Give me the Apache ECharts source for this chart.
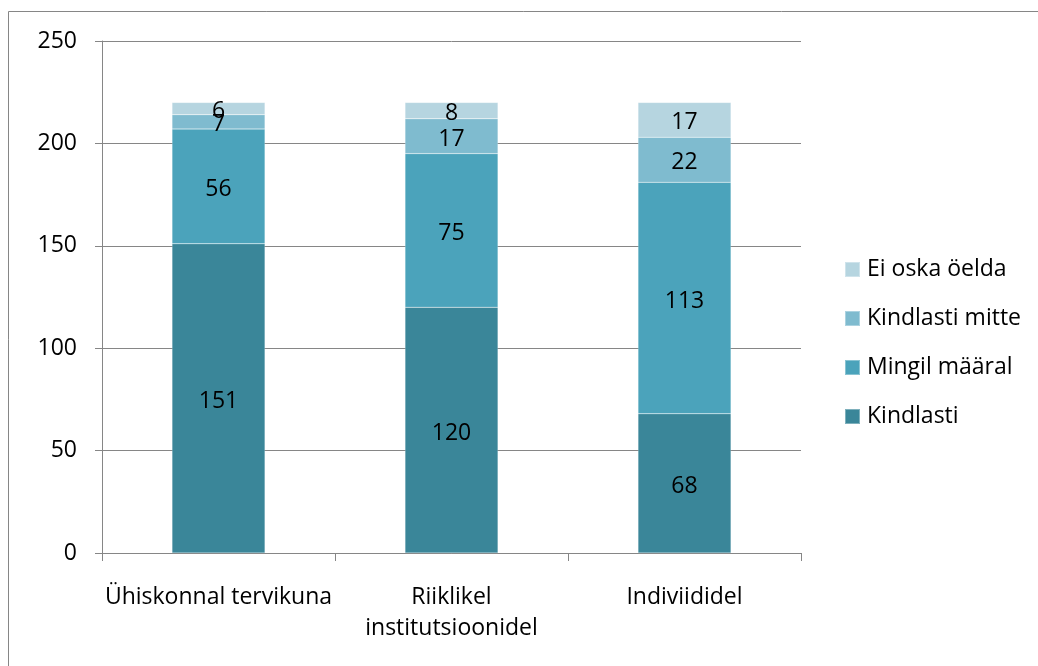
<!DOCTYPE html>
<html>
<head>
<meta charset="utf-8">
<script src="https://cdn.jsdelivr.net/npm/echarts@6/dist/echarts.min.js"></script>
<style>
  html, body { margin: 0; padding: 0; background: #ffffff; }
  #chart { width: 1038px; height: 666px; }
</style>
</head>
<body>
<div id="chart"></div>
<script>
// Categories and stacked series values
const categories = ['Ühiskonnal tervikuna', 'Riiklikel\ninstitutsioonidel', 'Indiviididel'];
const kindlasti = [151, 120, 68];
const mingilMaaral = [56, 75, 113];
const kindlastiMitte = [7, 17, 22];
const eiOskaOelda = [6, 8, 17];
const yTicks = { min: 0, max: 250, interval: 50 };

const FONT = 'Open Sans';
const FONT_SIZE = 23;
const AXIS_GREY = '#868686';

const seriesDefs = [
  { name: 'Kindlasti', data: kindlasti, color: '#3a8699' },
  { name: 'Mingil määral', data: mingilMaaral, color: '#4ba3bb' },
  { name: 'Kindlasti mitte', data: kindlastiMitte, color: '#7fbbcf' },
  { name: 'Ei oska öelda', data: eiOskaOelda, color: '#b6d5e0' }
];

const chart = echarts.init(document.getElementById('chart'), null, { renderer: 'canvas' });

chart.setOption({
  animation: false,
  backgroundColor: '#ffffff',
  textStyle: { fontFamily: FONT },
  graphic: [{
    type: 'rect',
    shape: { x: 8.5, y: 11.5, width: 1200, height: 800 },
    style: { fill: 'none', stroke: AXIS_GREY, lineWidth: 1 },
    silent: true
  }],
  grid: { left: 102, right: 237, top: 41, bottom: 113, containLabel: false },
  legend: {
    orient: 'vertical',
    left: 844,
    top: 258,
    padding: 0,
    itemWidth: 15,
    itemHeight: 15,
    itemGap: 26,
    icon: 'rect',
    data: ['Ei oska öelda', 'Kindlasti mitte', 'Mingil määral', 'Kindlasti'],
    textStyle: { fontFamily: FONT, fontSize: FONT_SIZE, lineHeight: 22, color: '#000000', padding: [0, 0, 0, 2] }
  },
  xAxis: {
    type: 'category',
    data: categories,
    axisLine: { lineStyle: { color: AXIS_GREY, width: 1 } },
    axisTick: { show: true, length: 8, lineStyle: { color: AXIS_GREY } },
    axisLabel: { color: '#000000', fontFamily: FONT, fontSize: FONT_SIZE, margin: 29, lineHeight: 31, interval: 0 }
  },
  yAxis: {
    type: 'value',
    min: yTicks.min,
    max: yTicks.max,
    interval: yTicks.interval,
    axisLine: { show: true, lineStyle: { color: AXIS_GREY, width: 1 } },
    axisTick: { show: true, length: 7, lineStyle: { color: AXIS_GREY } },
    splitLine: { show: true, lineStyle: { color: AXIS_GREY, width: 1 } },
    axisLabel: { color: '#000000', fontFamily: FONT, fontSize: FONT_SIZE, margin: 25 }
  },
  series: seriesDefs.map(s => ({
    name: s.name,
    type: 'bar',
    stack: 'total',
    barWidth: 93,
    data: s.data,
    itemStyle: { color: s.color, borderColor: 'rgba(255,255,255,0.35)', borderWidth: 0.5 },
    label: {
      show: true,
      position: 'inside',
      offset: [0, 3],
      color: '#000000',
      fontFamily: FONT,
      fontSize: FONT_SIZE
    }
  }))
});
</script>
</body>
</html>
